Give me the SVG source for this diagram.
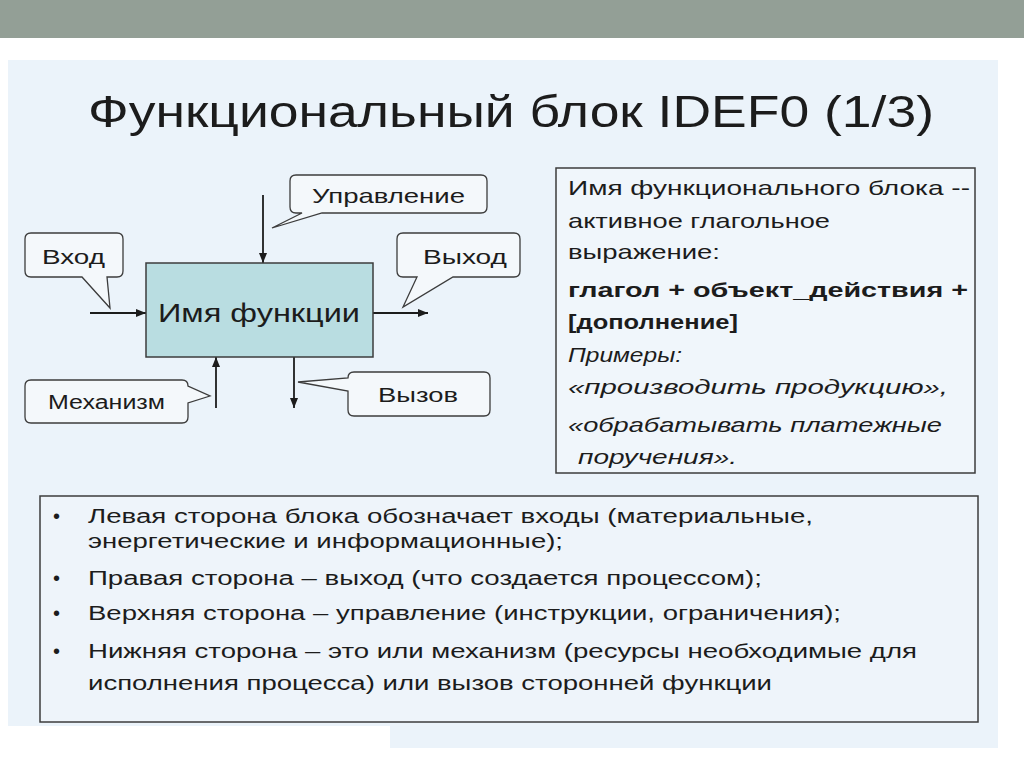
<svg xmlns="http://www.w3.org/2000/svg" width="1024" height="767" viewBox="0 0 1024 767">
<defs>
<style>
.t{font-family:"Liberation Sans",Arial,sans-serif;fill:#1c1c1c}
.c{fill:#F4F8FB;stroke:#3c3c3c;stroke-width:1.3}
.ln{stroke:#1c1c1c;stroke-width:1.8;fill:none}
.frame{stroke:#3c3c3c;stroke-width:1.5}
</style>
<marker id="ah" markerUnits="userSpaceOnUse" markerWidth="10" markerHeight="8" refX="10" refY="4" orient="auto">
<path d="M0,0 L10,4 L0,8 Z" fill="#1c1c1c"/>
</marker>
</defs>
<rect x="0" y="0" width="1024" height="767" fill="#ffffff"/>
<rect x="0" y="0" width="1024" height="38" fill="#939F96"/>
<path d="M8,60 H998 V748 H390 V726 H8 Z" fill="#EBF3FA"/>
<text class="t" x="88" y="127" font-size="45" textLength="846" lengthAdjust="spacingAndGlyphs">Функциональный блок IDEF0 (1/3)</text>

<g id="connectors">
<line class="ln" x1="90" y1="313" x2="146" y2="313" marker-end="url(#ah)"/>
<line class="ln" x1="373" y1="313" x2="428" y2="313" marker-end="url(#ah)"/>
<line class="ln" x1="263" y1="195" x2="263" y2="263" marker-end="url(#ah)"/>
<line class="ln" x1="216" y1="408" x2="216" y2="357" marker-end="url(#ah)"/>
<line class="ln" x1="294" y1="357" x2="294" y2="408" marker-end="url(#ah)"/>
</g>

<g id="function">
<rect x="146" y="263" width="227" height="94" fill="#B9DDE1" class="frame"/>
<text class="t" x="158" y="322" font-size="26" textLength="202" lengthAdjust="spacingAndGlyphs">Имя функции</text>
</g>

<g id="control">
<path class="c" d="M296,175 H481 Q487,175 487,181 V207 Q487,213 481,213 H322 L272,228 L302,213 H296 Q290,213 290,207 V181 Q290,175 296,175 Z"/>
<text class="t" x="312" y="203" font-size="21" textLength="153" lengthAdjust="spacingAndGlyphs">Управление</text>
</g>

<g id="input">
<path class="c" d="M31,233 H117 Q123,233 123,239 V271 Q123,277 117,277 H107 L110,308 L82,277 H31 Q25,277 25,271 V239 Q25,233 31,233 Z"/>
<text class="t" x="42" y="264" font-size="21" textLength="63" lengthAdjust="spacingAndGlyphs">Вход</text>
</g>

<g id="output">
<path class="c" d="M403,233 H514 Q520,233 520,239 V271 Q520,277 514,277 H453 L403,307 L417,277 H403 Q397,277 397,271 V239 Q397,233 403,233 Z"/>
<text class="t" x="423" y="264" font-size="21" textLength="84" lengthAdjust="spacingAndGlyphs">Выход</text>
</g>

<g id="mechanism">
<path class="c" d="M31,380 H182 Q188,380 188,386 L210,396 L188,403 V417 Q188,423 182,423 H31 Q25,423 25,417 V386 Q25,380 31,380 Z"/>
<text class="t" x="48" y="409" font-size="20" textLength="117" lengthAdjust="spacingAndGlyphs">Механизм</text>
</g>

<g id="call">
<path class="c" d="M354,372 H484 Q490,372 490,378 V410 Q490,416 484,416 H354 Q348,416 348,410 V391 L298,382 L348,378 Q348,372 354,372 Z"/>
<text class="t" x="378" y="402" font-size="21" textLength="80" lengthAdjust="spacingAndGlyphs">Вызов</text>
</g>

<g id="note">
<rect x="556" y="168" width="419" height="305" fill="#F0F6FB" class="frame"/>
<g class="t" font-size="21">
<text x="568" y="195" textLength="402" lengthAdjust="spacingAndGlyphs">Имя функционального блока --</text>
<text x="568" y="228" textLength="262" lengthAdjust="spacingAndGlyphs">активное глагольное</text>
<text x="568" y="259" textLength="152" lengthAdjust="spacingAndGlyphs">выражение:</text>
<text x="568" y="297" font-weight="bold" textLength="400" lengthAdjust="spacingAndGlyphs">глагол + объект_действия +</text>
<text x="568" y="329" font-weight="bold" textLength="170" lengthAdjust="spacingAndGlyphs">[дополнение]</text>
<text x="568" y="362" font-style="italic" textLength="114" lengthAdjust="spacingAndGlyphs">Примеры:</text>
<text x="568" y="394" font-style="italic" textLength="380" lengthAdjust="spacingAndGlyphs">«производить продукцию»,</text>
<text x="568" y="432" font-style="italic" textLength="374" lengthAdjust="spacingAndGlyphs">«обрабатывать платежные</text>
<text x="578" y="464" font-style="italic" textLength="159" lengthAdjust="spacingAndGlyphs">поручения».</text>
</g>
</g>

<g id="sides">
<rect x="40" y="496" width="938" height="226" fill="#EEF4FA" class="frame"/>
<g class="t" font-size="20">
<text x="53" y="523">•</text>
<text x="53" y="585">•</text>
<text x="53" y="620">•</text>
<text x="53" y="658">•</text>
<text x="88" y="523" textLength="725" lengthAdjust="spacingAndGlyphs">Левая сторона блока обозначает входы (материальные,</text>
<text x="88" y="548" textLength="475" lengthAdjust="spacingAndGlyphs">энергетические и информационные);</text>
<text x="88" y="585" textLength="674" lengthAdjust="spacingAndGlyphs">Правая сторона – выход (что создается процессом);</text>
<text x="88" y="620" textLength="753" lengthAdjust="spacingAndGlyphs">Верхняя сторона – управление (инструкции, ограничения);</text>
<text x="88" y="658" textLength="829" lengthAdjust="spacingAndGlyphs">Нижняя сторона – это или механизм (ресурсы необходимые для</text>
<text x="88" y="690" textLength="684" lengthAdjust="spacingAndGlyphs">исполнения процесса) или вызов сторонней функции</text>
</g>
</g>
</svg>
